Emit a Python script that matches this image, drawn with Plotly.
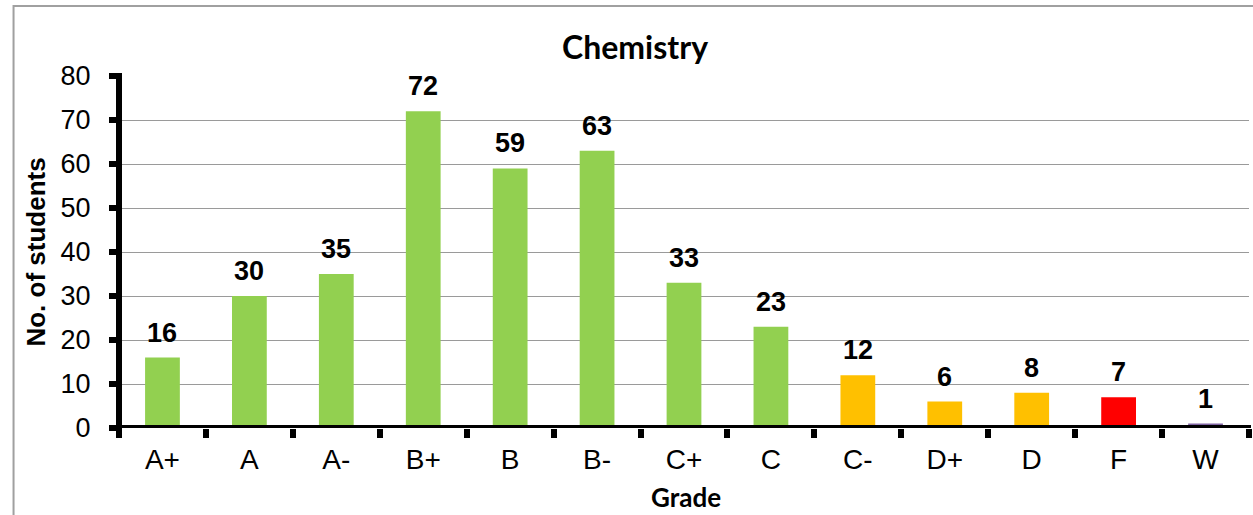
import plotly.graph_objects as go

grades = ["A+", "A", "A-", "B+", "B", "B-", "C+", "C", "C-", "D+", "D", "F", "W"]
students = [16, 30, 35, 72, 59, 63, 33, 23, 12, 6, 8, 7, 1]
bar_colors = ["#92D050"] * 8 + ["#FFC000"] * 3 + ["#FF0000", "#8064A2"]
y_ticks = [0, 10, 20, 30, 40, 50, 60, 70, 80]

W, H = 1253, 515
L, R, T, B = 118.5, 1249, 76, 428
pw, ph = R - L, B - T

def px_x(p):
    return (p - L) / pw

def px_y(p):
    return (B - p) / ph

fig = go.Figure()
fig.add_trace(go.Bar(
    x=grades, y=students,
    marker=dict(color=bar_colors, line=dict(width=0)),
    hoverinfo="x+y",
))

for g, v in zip(grades, students):
    fig.add_annotation(
        x=g, y=v, xref="x", yref="y", text=f"<b>{v}</b>",
        showarrow=False, yanchor="bottom", yshift=8,
        font=dict(family="Liberation Sans, Arial", size=27, color="black"),
    )

# title
fig.add_annotation(
    x=px_x(635), y=px_y(46), xref="paper", yref="paper",
    text="<b>Chemistry</b>", showarrow=False, xanchor="center", yanchor="middle",
    font=dict(family="Lato, Open Sans", size=32, color="black"),
)
# axis titles
fig.add_annotation(
    x=px_x(686), y=px_y(497), xref="paper", yref="paper",
    text="<b>Grade</b>", showarrow=False, xanchor="center", yanchor="middle",
    font=dict(family="Lato, Open Sans", size=26, color="black"),
)
fig.add_annotation(
    x=px_x(35), y=px_y(252), xref="paper", yref="paper",
    text="<b>No. of students</b>", showarrow=False, textangle=-90,
    xanchor="center", yanchor="middle",
    font=dict(family="Liberation Sans, Arial", size=26, color="black"),
)

# outer chart border
fig.add_shape(
    type="rect", xref="paper", yref="paper",
    x0=px_x(13), x1=px_x(1270), y0=px_y(530), y1=px_y(6),
    line=dict(color="#a0a0a0", width=2), layer="below",
)
# axis lines drawn centred on the plot edges (over the bar bases)
fig.add_shape(
    type="line", xref="paper", yref="y",
    x0=px_x(115.5), x1=px_x(1251), y0=0, y1=0,
    line=dict(color="black", width=6), layer="above",
)
fig.add_shape(
    type="line", xref="paper", yref="paper",
    x0=0, x1=0, y0=px_y(431), y1=px_y(73),
    line=dict(color="black", width=6), layer="above",
)

fig.update_layout(
    width=W, height=H,
    margin=dict(l=L, r=W - R, t=T, b=H - B, pad=0),
    plot_bgcolor="white", paper_bgcolor="white",
    showlegend=False, bargap=0.6,
    font=dict(family="Liberation Sans, Arial", color="black"),
)
fig.update_xaxes(
    type="category", showline=False,
    ticks="outside", tickson="boundaries", ticklen=9, tickwidth=6, tickcolor="black",
    tickfont=dict(family="Liberation Sans, Arial", size=28, color="black"),
    ticklabelstandoff=12, showgrid=False,
)
fig.update_yaxes(
    range=[0, 80], tickvals=y_ticks, showline=False,
    ticks="outside", ticklen=9, tickwidth=6, tickcolor="black",
    tickfont=dict(family="Liberation Sans, Arial", size=27, color="black"),
    ticklabelstandoff=13, showgrid=True, gridcolor="#9a9a9a", gridwidth=1,
    zeroline=False,
)

fig.write_html(
    "out.html",
    config={"displayModeBar": False},
    post_script="document.body.style.margin='0';document.body.style.overflow='hidden';",
)
